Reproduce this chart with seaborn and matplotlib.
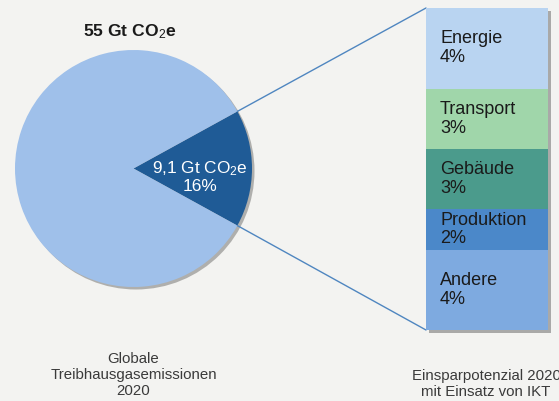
"""
Global greenhouse gas emissions 2020 and the saving potential with ICT:
pie on the left, exploded stacked bar on the right.
"""

import numpy as np
import matplotlib
matplotlib.use("Agg")
import matplotlib.pyplot as plt
from matplotlib.patches import Circle, Rectangle
import seaborn as sns

# ── Data ───────────────────────────────────────────────────────
total_label = "55 Gt CO$_2$e"
ikt_label = "9,1 Gt CO$_2$e"
ikt_share = 16                      # percent of the total
rest_share = 100 - ikt_share
sectors = ["Energie", "Transport", "Gebäude", "Produktion", "Andere"]
savings = [4, 3, 3, 2, 4]           # percent, top to bottom
pie_caption = "Globale\nTreibhausgasemissionen\n2020"
bar_caption = "Einsparpotenzial 2020\nmit Einsatz von IKT"

# ── Style ──────────────────────────────────────────────────────
sns.set_theme(style="white")
plt.rcParams.update({
    "font.family": ["Liberation Sans", "DejaVu Sans"],
    "mathtext.fontset": "custom",
    "mathtext.rm": "Liberation Sans",
    "mathtext.it": "Liberation Sans:italic",
    "mathtext.bf": "Liberation Sans:bold",
})
BG = "#f3f3f1"
PIE_LIGHT = "#9fc0ea"
PIE_DARK = "#1f5b96"
LINE = "#4f86c0"
SECTOR_COLORS = ["#b9d4f1", "#a0d6aa", "#4b9b8c", "#4b88c9", "#7eaae0"]
TEXT = "#1a1a1a"
CAPTION = "#3a3a3a"

W, H = 559, 401
fig = plt.figure(figsize=(W / 100, H / 100), dpi=100, facecolor=BG)

# main canvas in pixel coordinates
ax = fig.add_axes([0, 0, 1, 1])
ax.set_facecolor(BG)

cx, cy, r = 133.5, 168.5, 118.5
half = ikt_share * 3.6 / 2

# soft shadow behind the pie
ax.add_patch(Circle((cx + 2.5, cy + 2.5), r, color="black", alpha=0.28, lw=0, zorder=0))
ax.pie([ikt_share, rest_share], colors=[PIE_DARK, PIE_LIGHT],
       startangle=-half, center=(cx, cy), radius=r,
       wedgeprops=dict(linewidth=0, zorder=1))

# bar frame (pixel box) and its shadow
bx0, by0, bw, bh = 426, 8, 122, 322
ax.add_patch(Rectangle((bx0 + 3, by0 + 3), bw, bh, color="black", alpha=0.3, lw=0, zorder=0))

# connector lines from the wedge edge to the bar corners
for sgn, ty in [(1, by0), (-1, by0 + bh)]:
    px = cx + r * np.cos(np.radians(half))
    py = cy - sgn * r * np.sin(np.radians(half))
    ax.plot([px, bx0], [py, ty], color=LINE, lw=1.0, zorder=2)

ax.text(cx - 4, 32, total_label, ha="center", va="center",
        fontsize=12.6, fontweight="bold", color=TEXT)
ax.text(200, 177, f"{ikt_label}\n{ikt_share}%", ha="center", va="center",
        fontsize=12.4, color="white", linespacing=1.07, zorder=3)
ax.text(cx, 375, pie_caption, ha="center", va="center",
        fontsize=10.8, color=CAPTION, linespacing=1.22)
ax.text(486, 384, bar_caption, ha="center", va="center",
        fontsize=10.8, color=CAPTION, linespacing=1.22)

ax.set_xlim(0, W)
ax.set_ylim(H, 0)
ax.set_aspect("auto")
ax.axis("off")

# ── Stacked bar (layered cumulative bars) ──────────────────────
bax = fig.add_axes([bx0 / W, (H - by0 - bh) / H, bw / W, bh / H])
cum = np.cumsum(savings[::-1])[::-1]
for name, val, top, col in zip(sectors, savings, cum, SECTOR_COLORS):
    sns.barplot(x=[0], y=[top], color=col, width=1, saturation=1,
                errorbar=None, linewidth=0, ax=bax)
for name, val, top in zip(sectors, savings, cum):
    bax.text(-0.5 + 14 / bw, top - val / 2, f"{name}\n{val}%",
             ha="left", va="center", fontsize=13, color=TEXT, linespacing=1.13)
bax.set_xlim(-0.5, 0.5)
bax.set_ylim(0, sum(savings))
bax.axis("off")

fig.savefig("out.png", dpi=100, facecolor=BG)
